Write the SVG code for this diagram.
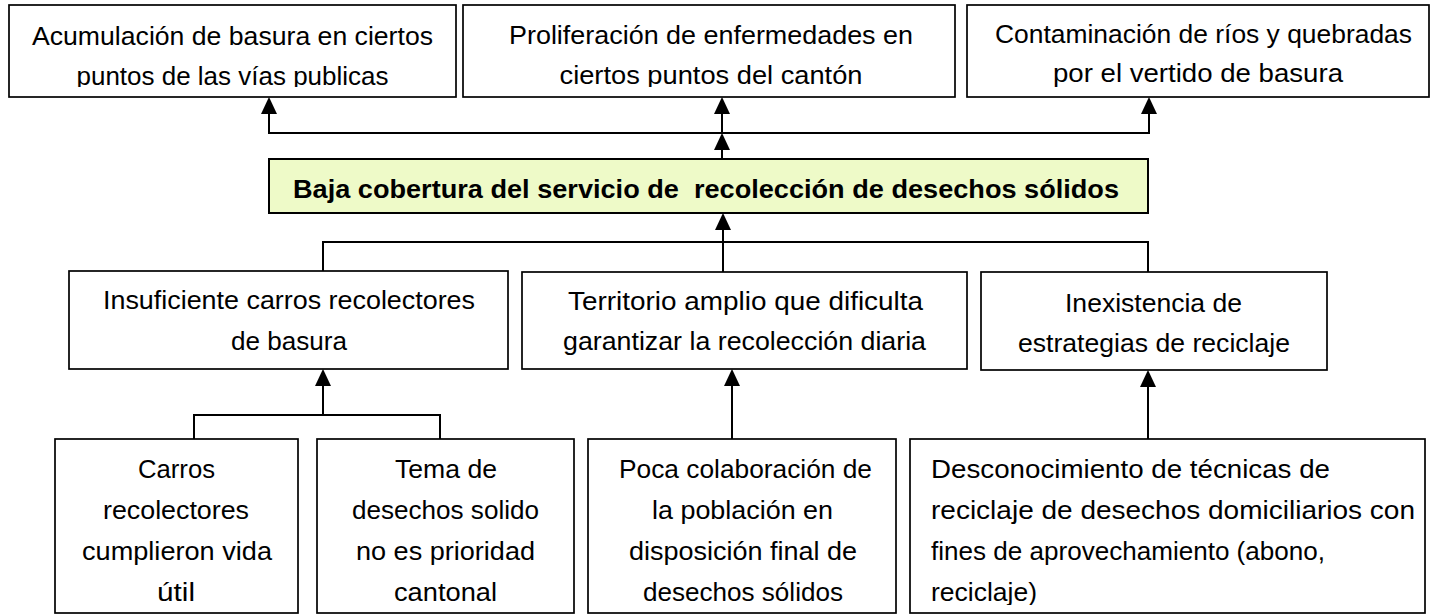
<svg xmlns="http://www.w3.org/2000/svg" width="1434" height="615" viewBox="0 0 1434 615">
  <style>
    .box { fill: #ffffff; stroke: #000000; stroke-width: 1.7; }
    .core { fill: #eefac8; stroke: #000000; stroke-width: 2; }
    .t { font-family: "Liberation Sans", Arial, sans-serif; font-size: 26px; fill: #000000; text-anchor: middle; }
    .l { text-anchor: start; }
    .b { font-weight: bold; }
    .c { fill: none; stroke: #000000; stroke-width: 2; }
    .a { marker-end: url(#arrow); }
  </style>
  <defs>
    <marker id="arrow" viewBox="0 0 17 16" refX="13" refY="8" markerWidth="17" markerHeight="16" markerUnits="userSpaceOnUse" orient="auto">
      <path d="M0,0 L17,8 L0,16 z" fill="#000000"/>
    </marker>
    <clipPath id="clipTop"><rect x="0" y="0" width="1434" height="87"/></clipPath>
    <clipPath id="clipB10"><rect x="900" y="430" width="534" height="175"/></clipPath>
  </defs>

  <g id="connectors">
    <path class="c a" d="M722,133 H269 V101"/>
    <path class="c a" d="M722,133 V101"/>
    <path class="c a" d="M722,133 H1149 V101"/>
    <path class="c a" d="M722,159 V137"/>
    <path class="c a" d="M723,272 V217"/>
    <path class="c" d="M323,271 V242 H1148 V272"/>
    <path class="c a" d="M323,415 V373"/>
    <path class="c" d="M194,439 V415 H440 V439"/>
    <path class="c a" d="M732,439 V373"/>
    <path class="c a" d="M1148,439 V374"/>
  </g>

  <g id="effect1">
    <rect class="box" x="9" y="5" width="447" height="92"/>
    <g clip-path="url(#clipTop)">
      <text class="t" x="232.5" y="45" textLength="401" lengthAdjust="spacingAndGlyphs">Acumulación de basura en ciertos</text>
      <text class="t" x="232.5" y="85" textLength="312" lengthAdjust="spacingAndGlyphs">puntos de las vías publicas</text>
    </g>
  </g>
  <g id="effect2">
    <rect class="box" x="463" y="5" width="492" height="92"/>
    <g clip-path="url(#clipTop)">
      <text class="t" x="711" y="44" textLength="404" lengthAdjust="spacingAndGlyphs">Proliferación de enfermedades en</text>
      <text class="t" x="711" y="84" textLength="303" lengthAdjust="spacingAndGlyphs">ciertos puntos del cantón</text>
    </g>
  </g>
  <g id="effect3">
    <rect class="box" x="967" y="5" width="462" height="92"/>
    <text class="t" x="1203.5" y="43" textLength="417" lengthAdjust="spacingAndGlyphs">Contaminación de ríos y quebradas</text>
    <text class="t" x="1198" y="82" textLength="290" lengthAdjust="spacingAndGlyphs">por el vertido de basura</text>
  </g>

  <g id="problem">
    <rect class="core" x="269" y="159" width="879" height="54"/>
    <text class="t b" x="706" y="198" textLength="826" lengthAdjust="spacingAndGlyphs" xml:space="preserve">Baja cobertura del servicio de  recolección de desechos sólidos</text>
  </g>

  <g id="cause1">
    <rect class="box" x="69" y="271" width="439" height="98"/>
    <text class="t" x="289" y="309" textLength="372" lengthAdjust="spacingAndGlyphs">Insuficiente carros recolectores</text>
    <text class="t" x="289" y="350" textLength="116" lengthAdjust="spacingAndGlyphs">de basura</text>
  </g>
  <g id="cause2">
    <rect class="box" x="522" y="272" width="445" height="97"/>
    <text class="t" x="745.5" y="310" textLength="355" lengthAdjust="spacingAndGlyphs">Territorio amplio que dificulta</text>
    <text class="t" x="744.5" y="350" textLength="363" lengthAdjust="spacingAndGlyphs">garantizar la recolección diaria</text>
  </g>
  <g id="cause3">
    <rect class="box" x="981" y="272" width="346" height="98"/>
    <text class="t" x="1153.5" y="312" textLength="177" lengthAdjust="spacingAndGlyphs">Inexistencia de</text>
    <text class="t" x="1154" y="352" textLength="272" lengthAdjust="spacingAndGlyphs">estrategias de reciclaje</text>
  </g>

  <g id="sub1">
    <rect class="box" x="55" y="439" width="243" height="174"/>
    <text class="t" x="176.5" y="478" textLength="77" lengthAdjust="spacingAndGlyphs">Carros</text>
    <text class="t" x="176" y="519" textLength="146" lengthAdjust="spacingAndGlyphs">recolectores</text>
    <text class="t" x="177" y="560" textLength="190" lengthAdjust="spacingAndGlyphs">cumplieron vida</text>
    <text class="t" x="176" y="601" textLength="38" lengthAdjust="spacingAndGlyphs">útil</text>
  </g>
  <g id="sub2">
    <rect class="box" x="317" y="439" width="257" height="174"/>
    <text class="t" x="446" y="478" textLength="102" lengthAdjust="spacingAndGlyphs">Tema de</text>
    <text class="t" x="445.5" y="519" textLength="187" lengthAdjust="spacingAndGlyphs">desechos solido</text>
    <text class="t" x="445.5" y="560" textLength="179" lengthAdjust="spacingAndGlyphs">no es prioridad</text>
    <text class="t" x="445.5" y="601" textLength="103" lengthAdjust="spacingAndGlyphs">cantonal</text>
  </g>
  <g id="sub3">
    <rect class="box" x="588" y="439" width="308" height="174"/>
    <text class="t" x="745.5" y="478" textLength="253" lengthAdjust="spacingAndGlyphs">Poca colaboración de</text>
    <text class="t" x="742.5" y="519" textLength="181" lengthAdjust="spacingAndGlyphs">la población en</text>
    <text class="t" x="743" y="560" textLength="228" lengthAdjust="spacingAndGlyphs">disposición final de</text>
    <text class="t" x="743" y="601" textLength="200" lengthAdjust="spacingAndGlyphs">desechos sólidos</text>
  </g>
  <g id="sub4">
    <rect class="box" x="910" y="439" width="515" height="174"/>
    <g clip-path="url(#clipB10)">
      <text class="t l" x="931" y="478" textLength="399" lengthAdjust="spacingAndGlyphs">Desconocimiento de técnicas de</text>
      <text class="t l" x="931" y="519" textLength="484" lengthAdjust="spacingAndGlyphs">reciclaje de desechos domiciliarios con</text>
      <text class="t l" x="931" y="560" textLength="394" lengthAdjust="spacingAndGlyphs">fines de aprovechamiento (abono,</text>
      <text class="t l" x="931" y="601" textLength="106" lengthAdjust="spacingAndGlyphs">reciclaje)</text>
    </g>
  </g>
</svg>
